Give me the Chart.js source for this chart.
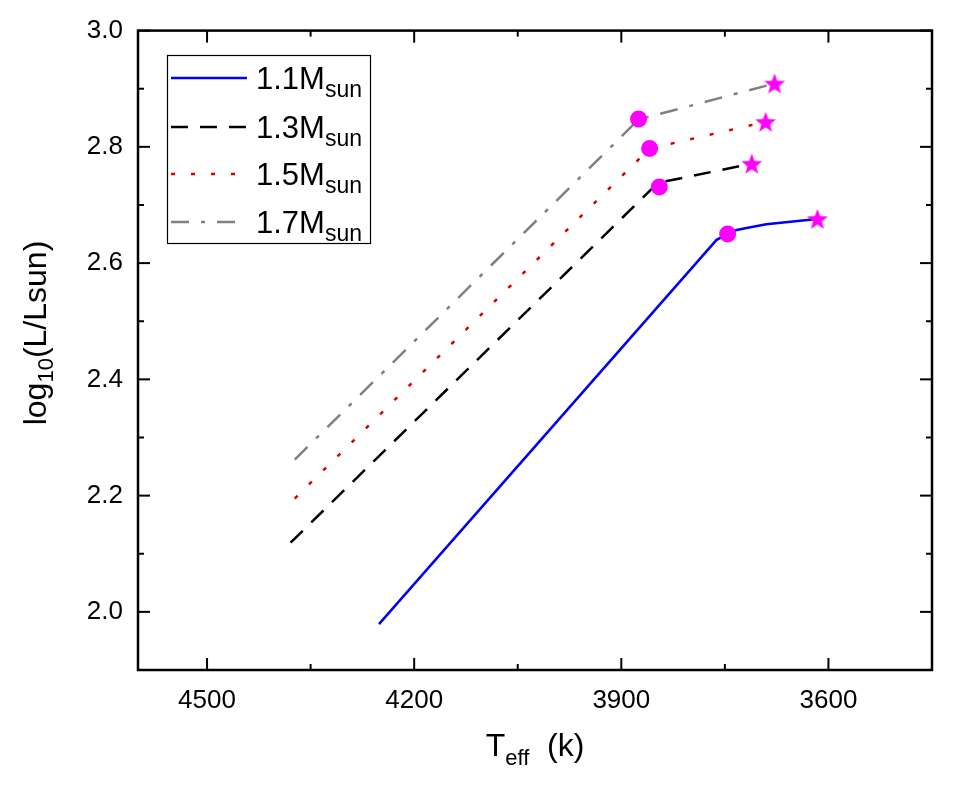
<!DOCTYPE html>
<html>
<head>
<meta charset="utf-8">
<title>log L - Teff</title>
<script src="https://cdn.jsdelivr.net/npm/chart.js@4/dist/chart.umd.min.js"></script>
<style>
  html, body { margin: 0; padding: 0; background: #fff; }
  canvas { display: block; }
</style>
</head>
<body>
<canvas id="myChart" width="969" height="792"></canvas>
<script>
// dati
const masse = ['1.1', '1.3', '1.5', '1.7']

const teff11 = [4251, 3762, 3746, 3733, 3711, 3690, 3616]
const logL11 = [1.979, 2.640, 2.650, 2.657, 2.662, 2.667, 2.676]
const teff13 = [4379, 3847, 3711]
const logL13 = [2.119, 2.738, 2.771]
const teff15 = [4373, 3859, 3691]
const logL15 = [2.195, 2.797, 2.843]
const teff17 = [4373, 3875, 3678]
const logL17 = [2.262, 2.847, 2.909]

// cerchi e stelle magenta
const cerchiT = [3746, 3845, 3859, 3875]
const cerchiL = [2.650, 2.731, 2.797, 2.848]
const stelleT = [3616, 3711, 3691, 3678]
const stelleL = [2.676, 2.771, 2.843, 2.909]

// tick degli assi
const xTicks = [4500, 4200, 3900, 3600]
const xMinor = [4350, 4050, 3750, 3450]
const yTicks = [2.0, 2.2, 2.4, 2.6, 2.8, 3.0]
const yMinor = [1.9, 2.1, 2.3, 2.5, 2.7, 2.9]

const font = "'Liberation Sans', Arial, sans-serif"

function punti(xs, ys) {
  return xs.map((v, i) => ({ x: v, y: ys[i] }))
}

// stella piena a 5 punte (quella di chart.js e' solo a linee)
function stella(r) {
  const c = document.createElement('canvas')
  c.width = c.height = Math.ceil(2 * r + 2)
  const g = c.getContext('2d')
  g.fillStyle = '#ff00ff'
  g.beginPath()
  for (let i = 0; i < 10; i++) {
    const rr = i % 2 ? r * 0.42 : r
    const ang = -Math.PI / 2 + i * Math.PI / 5
    g.lineTo(c.width / 2 + rr * Math.cos(ang), c.height / 2 + 1 + rr * Math.sin(ang))
  }
  g.closePath()
  g.fill()
  return c
}

const linee = [
  { label: masse[0], data: punti(teff11, logL11), borderColor: '#0000f0', borderDash: [], borderWidth: 2.5 },
  { label: masse[1], data: punti(teff13, logL13), borderColor: '#000000', borderDash: [17, 12], borderWidth: 2.5 },
  { label: masse[2], data: punti(teff15, logL15), borderColor: '#d80000', borderDash: [4, 16], borderWidth: 2.5 },
  { label: masse[3], data: punti(teff17, logL17), borderColor: '#808080', borderDash: [18, 12, 4, 12], borderWidth: 2.5 }
]

const datasets = [
  { data: punti(cerchiT, cerchiL), showLine: false, pointStyle: 'circle', pointRadius: 8.5,
    backgroundColor: '#ff00ff', borderWidth: 0 },
  { data: punti(stelleT, stelleL), showLine: false, pointStyle: stella(11), pointRadius: 10 }
]
linee.forEach(l => {
  datasets.push({ label: l.label, data: l.data, showLine: true, pointRadius: 0, fill: false,
    borderColor: l.borderColor, borderDash: l.borderDash, borderWidth: l.borderWidth, tension: 0 })
})

function tratto(ctx, x1, y1, x2, y2) {
  ctx.beginPath()
  ctx.moveTo(x1, y1)
  ctx.lineTo(x2, y2)
  ctx.stroke()
}

// cornice, tick verso l'interno, titoli e legenda
const cornice = {
  id: 'cornice',
  afterDraw(chart) {
    const ctx = chart.ctx
    const a = chart.chartArea
    const sx = chart.scales.x
    const sy = chart.scales.y
    ctx.save()
    ctx.strokeStyle = '#000'
    ctx.setLineDash([])
    ctx.lineWidth = 2.5
    ctx.strokeRect(a.left, a.top, a.right - a.left, a.bottom - a.top)
    ctx.lineWidth = 2
    xTicks.forEach(v => {
      const p = sx.getPixelForValue(v)
      tratto(ctx, p, a.bottom, p, a.bottom - 12)
      tratto(ctx, p, a.top, p, a.top + 12)
    })
    xMinor.forEach(v => {
      const p = sx.getPixelForValue(v)
      tratto(ctx, p, a.bottom, p, a.bottom - 6)
      tratto(ctx, p, a.top, p, a.top + 6)
    })
    yTicks.forEach(v => {
      const p = sy.getPixelForValue(v)
      tratto(ctx, a.left, p, a.left + 12, p)
      tratto(ctx, a.right, p, a.right - 12, p)
    })
    yMinor.forEach(v => {
      const p = sy.getPixelForValue(v)
      tratto(ctx, a.left, p, a.left + 6, p)
      tratto(ctx, a.right, p, a.right - 6, p)
    })

    ctx.fillStyle = '#000'
    ctx.textBaseline = 'alphabetic'
    ctx.textAlign = 'left'

    // titolo asse x: T_eff (k)
    ctx.font = '32px ' + font
    const wT = ctx.measureText('T').width
    const wK = ctx.measureText('  (k)').width
    ctx.font = '22px ' + font
    const wE = ctx.measureText('eff').width
    let x0 = (a.left + a.right) / 2 - (wT + wE + wK) / 2
    ctx.font = '32px ' + font
    ctx.fillText('T', x0, 756)
    ctx.font = '22px ' + font
    ctx.fillText('eff', x0 + wT, 765)
    ctx.font = '32px ' + font
    ctx.fillText('  (k)', x0 + wT + wE, 756)

    // titolo asse y: log10(L/Lsun)
    ctx.save()
    ctx.translate(46, 333)
    ctx.rotate(-Math.PI / 2)
    ctx.font = '32px ' + font
    const wLog = ctx.measureText('log').width
    const wRest = ctx.measureText('(L/Lsun)').width
    ctx.font = '22px ' + font
    const w10 = ctx.measureText('10').width
    x0 = -(wLog + w10 + wRest) / 2
    ctx.font = '32px ' + font
    ctx.fillText('log', x0, 0)
    ctx.font = '22px ' + font
    ctx.fillText('10', x0 + wLog, 7)
    ctx.font = '32px ' + font
    ctx.fillText('(L/Lsun)', x0 + wLog + w10, 0)
    ctx.restore()

    // legenda
    ctx.lineWidth = 1.2
    ctx.strokeRect(167.5, 55.5, 203, 188)
    const righe = [78, 127, 174, 222]
    linee.forEach((l, i) => {
      const y = righe[i]
      ctx.strokeStyle = l.borderColor
      ctx.lineWidth = l.borderWidth
      ctx.setLineDash(l.borderDash)
      tratto(ctx, 171, y, 247, y)
      ctx.setLineDash([])
      ctx.fillStyle = '#000'
      ctx.font = '31px ' + font
      const t = l.label + 'M'
      ctx.fillText(t, 256, y + 11)
      const w = ctx.measureText(t).width
      ctx.font = '23px ' + font
      ctx.fillText('sun', 256 + w, y + 19)
    })
    ctx.restore()
  }
}

const ctx = document.getElementById('myChart').getContext('2d')
const myChart = new Chart(ctx, {
  type: 'scatter',
  data: { datasets: datasets },
  options: {
    responsive: false,
    animation: false,
    layout: { padding: { left: 0, right: 37, top: 30, bottom: 0 } },
    plugins: {
      legend: { display: false },
      tooltip: { enabled: false }
    },
    scales: {
      x: {
        type: 'linear',
        reverse: true,
        min: 3450,
        max: 4600,
        afterBuildTicks: s => { s.ticks = xTicks.map(v => ({ value: v })) },
        afterFit: s => { s.height = 122 },
        grid: { display: false, drawTicks: false },
        border: { display: false },
        ticks: {
          color: '#000',
          font: { family: font, size: 26 },
          padding: 15,
          maxRotation: 0,
          callback: v => String(v)
        }
      },
      y: {
        type: 'linear',
        min: 1.9,
        max: 3.0,
        afterBuildTicks: s => { s.ticks = yTicks.map(v => ({ value: v })) },
        afterFit: s => { s.width = 138 },
        grid: { display: false, drawTicks: false },
        border: { display: false },
        ticks: {
          color: '#000',
          font: { family: font, size: 26 },
          padding: 15,
          callback: v => v.toFixed(1)
        }
      }
    }
  },
  plugins: [cornice]
})
</script>
</body>
</html>
